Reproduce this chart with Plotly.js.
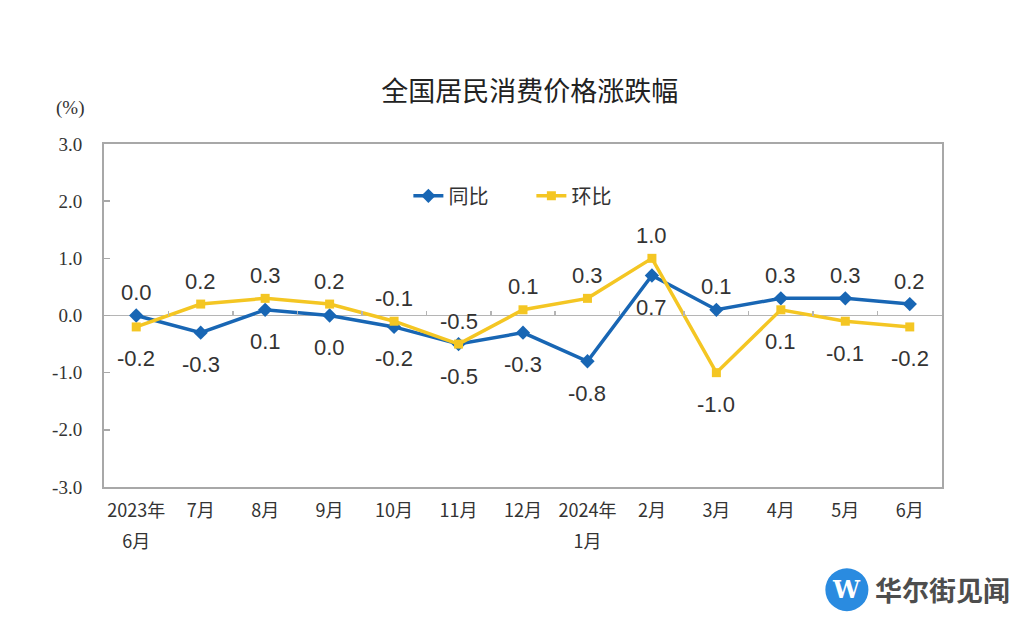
<!DOCTYPE html>
<html>
<head>
<meta charset="utf-8">
<script src="https://cdn.plot.ly/plotly-3.0.1.min.js"></script>
<style>
html, body { margin: 0; padding: 0; background: #fff; }
#chart { width: 1024px; height: 624px; }
</style>
</head>
<body>
<div id="chart"></div>
<script>
// month labels along the bottom
months = ['2023年<br>6月', '7月', '8月', '9月', '10月', '11月', '12月',
          '2024年<br>1月', '2月', '3月', '4月', '5月', '6月']

// 同比 (year on year) and 环比 (month on month), %
yoy = [0.0, -0.3, 0.1, 0.0, -0.2, -0.5, -0.3, -0.8, 0.7, 0.1, 0.3, 0.3, 0.2]
mom = [-0.2, 0.2, 0.3, 0.2, -0.1, -0.5, 0.1, 0.3, 1.0, -1.0, 0.1, -0.1, -0.2]

// which side of the point each value label sits on (1 above, -1 below)
yoySide = [1, -1, -1, -1, -1, -1, -1, -1, -1, 1, 1, 1, 1]
momSide = [-1, 1, 1, 1, 1, 1, 1, 1, 1, -1, -1, -1, -1]

yTicks = [-3, -2, -1, 0, 1, 2, 3]

blue = '#1866b4'
yellow = '#f4c623'
frame = '#a8a8a8'

// the two-line month labels are split over two axes so the line gap matches
var firstLine = months.map(m => m.split('<br>')[0])
var secondVals = [], secondText = []
for (i = 0; i < months.length; i++) {
    parts = months[i].split('<br>')
    if (parts.length > 1) { secondVals.push(i); secondText.push(parts[1]) }
}

var traces = [
    {
        x: months, y: yoy, name: '同比',
        type: 'scatter', mode: 'lines+markers',
        line: {color: blue, width: 3.5},
        marker: {symbol: 'diamond', size: 11, color: blue},
        hoverinfo: 'skip'
    },
    {
        x: months, y: mom, name: '环比',
        type: 'scatter', mode: 'lines+markers',
        line: {color: yellow, width: 3.5},
        marker: {symbol: 'square', size: 9, color: yellow},
        hoverinfo: 'skip'
    },
    // only there so the helper axes get drawn
    {x: [0], y: [null], xaxis: 'x2', showlegend: false, hoverinfo: 'skip', mode: 'markers'},
    {x: [0], y: [null], xaxis: 'x3', showlegend: false, hoverinfo: 'skip', mode: 'markers'}
]

// value labels
var notes = []
function addLabels(vals, sides) {
    for (i = 0; i < vals.length; i++) {
        notes.push({
            x: months[i], y: vals[i], xref: 'x', yref: 'y',
            text: vals[i].toFixed(1), showarrow: false,
            yshift: sides[i] > 0 ? 23 : -32,
            font: {family: 'Liberation Sans, Arial, sans-serif', size: 22, color: '#333'}
        })
    }
}
addLabels(yoy, yoySide)
addLabels(mom, momSide)

// unit label
notes.push({
    x: -0.04, y: 1.106, xref: 'paper', yref: 'paper',
    text: '(%)', showarrow: false, xanchor: 'center', yanchor: 'middle',
    font: {family: 'Liberation Serif, serif', size: 19, color: '#333'}
})

// watermark
notes.push({
    x: 0.8865, y: -0.2994, xref: 'paper', yref: 'paper',
    text: '<b>W</b>', showarrow: false, xanchor: 'center', yanchor: 'middle',
    font: {family: 'DejaVu Serif, serif', size: 24, color: '#fff'}
})
notes.push({
    x: 0.918, y: -0.2994, xref: 'paper', yref: 'paper',
    text: '<b>华尔街见闻</b>', showarrow: false, xanchor: 'left', yanchor: 'middle',
    font: {family: 'Noto Sans CJK SC, sans-serif', size: 27, color: '#4d4d4d'}
})

var boundaries = []
for (i = 0; i < months.length - 1; i++) { boundaries.push(i + 0.5) }

var tickFont = {family: 'Noto Sans CJK SC, sans-serif', size: 18, color: '#333'}

var layout = {
    width: 1024, height: 624,
    margin: {l: 104, r: 82, t: 144, b: 137},
    paper_bgcolor: '#fff', plot_bgcolor: '#fff',
    showlegend: true,
    title: {
        text: '全国居民消费价格涨跌幅',
        x: 0.508, xref: 'paper', xanchor: 'center',
        y: 0.854, yref: 'container', yanchor: 'middle',
        font: {family: 'Noto Sans CJK SC, sans-serif', size: 27, color: '#222'}
    },
    legend: {
        orientation: 'h', x: 0.51, xanchor: 'center', y: 0.849, yanchor: 'middle',
        font: {family: 'Noto Sans CJK SC, sans-serif', size: 20, color: '#333'},
        entrywidth: 78, entrywidthmode: 'pixels',
        bgcolor: 'rgba(0,0,0,0)', itemclick: false, itemdoubleclick: false
    },
    xaxis: {
        type: 'category', range: [-0.5, 12.5], fixedrange: true,
        tickvals: months, ticktext: firstLine,
        showline: true, linecolor: frame, linewidth: 2, mirror: true,
        showgrid: false, zeroline: false, ticks: '',
        tickfont: tickFont, ticklabelstandoff: 6
    },
    xaxis2: {
        overlaying: 'x', anchor: 'free', position: 0.5,
        range: [-0.5, 12.5], fixedrange: true,
        tickvals: boundaries, ticks: 'inside', ticklen: 5, tickwidth: 1.5,
        tickcolor: '#b5b5b5', showticklabels: false,
        showline: false, showgrid: false, zeroline: false
    },
    xaxis3: {
        overlaying: 'x', anchor: 'free', position: 0, side: 'bottom',
        range: [-0.5, 12.5], fixedrange: true,
        tickvals: secondVals, ticktext: secondText,
        ticks: 'outside', ticklen: 38, tickcolor: 'rgba(0,0,0,0)',
        showline: false, showgrid: false, zeroline: false,
        tickfont: tickFont
    },
    yaxis: {
        range: [-3, 3], fixedrange: true,
        tickvals: yTicks, ticktext: yTicks.map(v => v.toFixed(1)),
        ticks: 'inside', ticklen: 6, tickwidth: 1.5, tickcolor: frame,
        showline: true, linecolor: frame, linewidth: 2, mirror: true,
        showgrid: false, zeroline: true, zerolinecolor: '#b5b5b5', zerolinewidth: 1.5,
        tickfont: {family: 'Liberation Serif, serif', size: 19, color: '#333'},
        ticklabelstandoff: 16
    },
    annotations: notes,
    shapes: [{
        type: 'circle', xref: 'paper', yref: 'paper',
        x0: 0.8865 - 0.0257, x1: 0.8865 + 0.0257,
        y0: -0.2994 - 0.0625, y1: -0.2994 + 0.0625,
        fillcolor: '#2a8be0', line: {width: 0}, layer: 'above'
    }]
}

Plotly.newPlot('chart', traces, layout, {displayModeBar: false, staticPlot: true})
</script>
</body>
</html>
